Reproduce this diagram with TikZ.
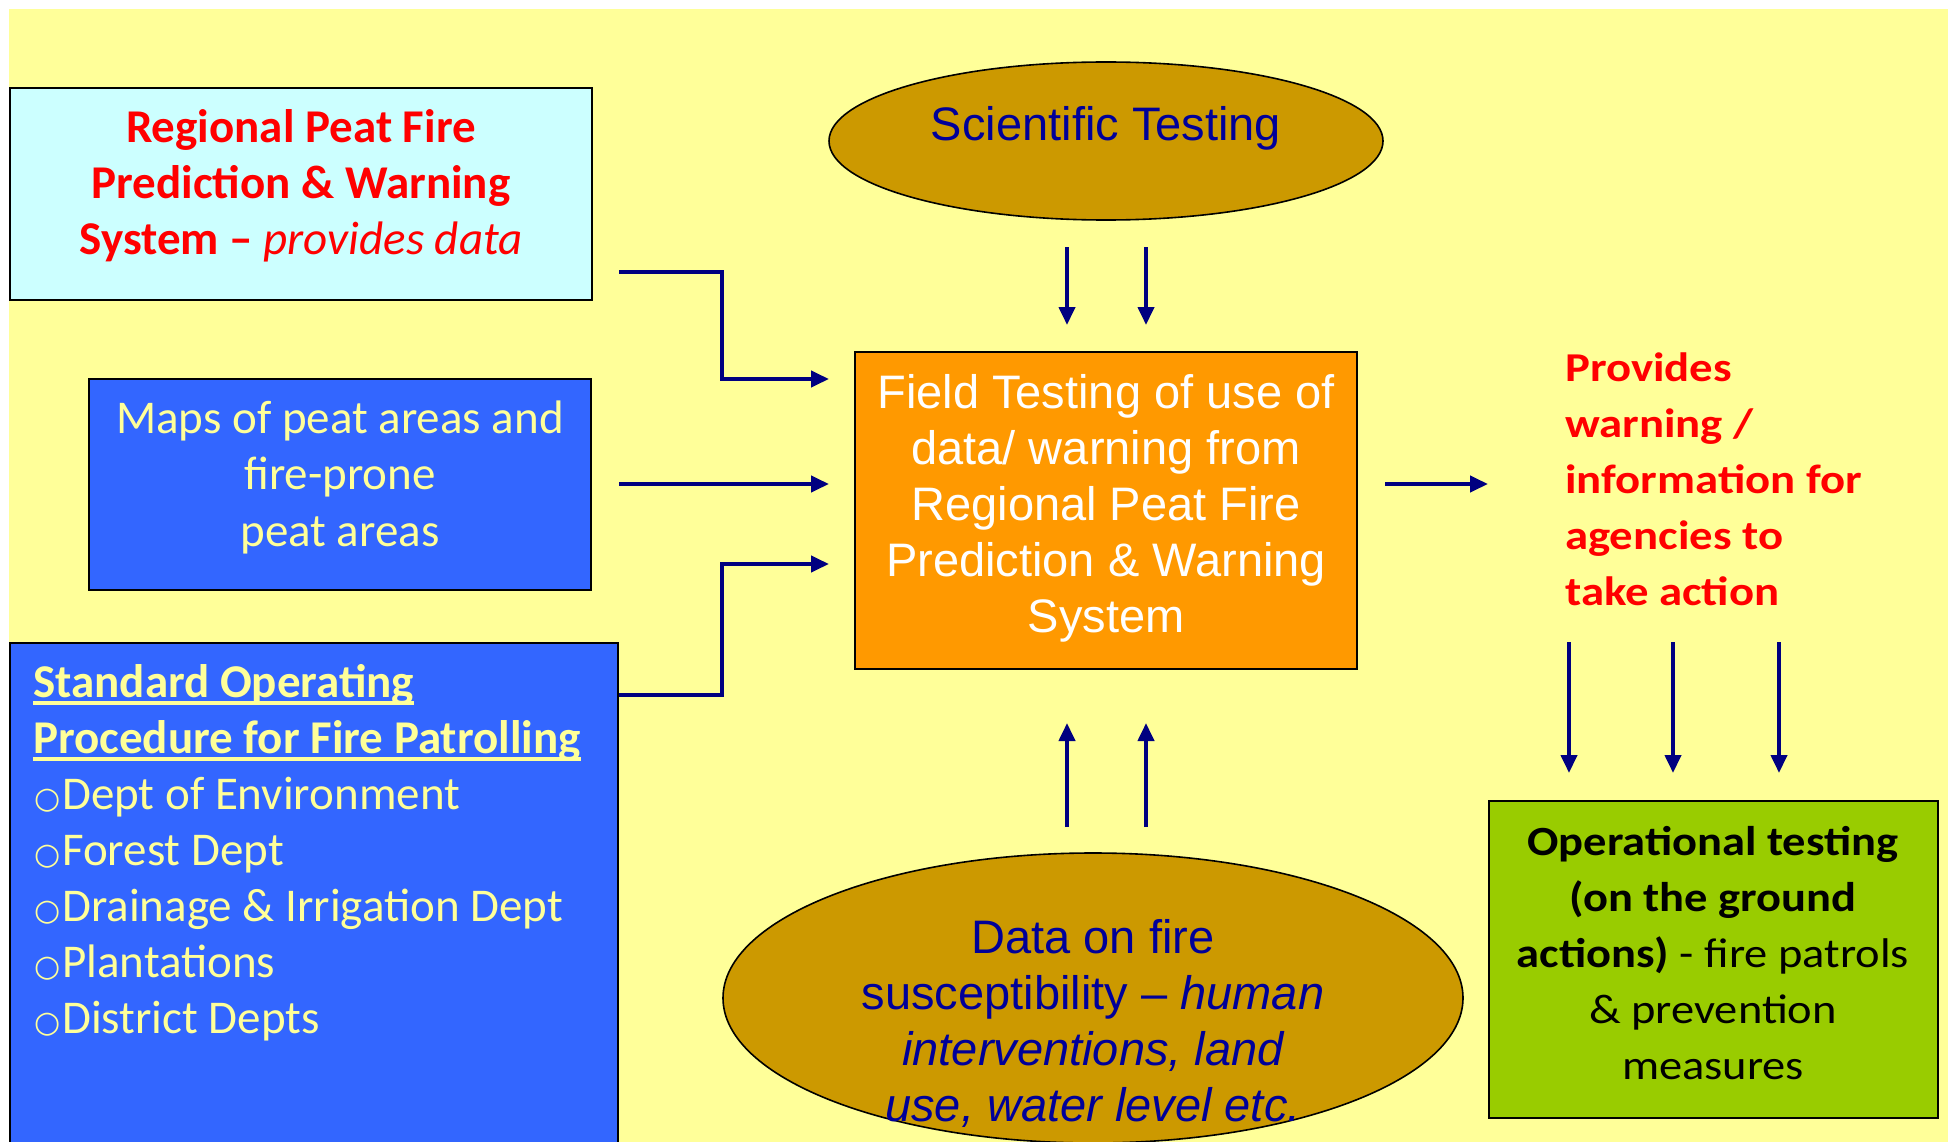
\documentclass[tikz,border=0pt]{standalone}
\usepackage{fontspec}
\setmainfont{Carlito}
\newfontfamily\arialf{Liberation Sans}
\newfontfamily\dejavuf{DejaVu Sans}
\newfontfamily\redf[FakeStretch=1.14]{Carlito}
\newfontfamily\greenf[FakeStretch=1.12]{Carlito}
\usetikzlibrary{shapes.geometric,arrows.meta}
\definecolor{bgyellow}{HTML}{FFFF99}
\definecolor{cyanbox}{HTML}{CCFFFF}
\definecolor{bluebox}{HTML}{3366FF}
\definecolor{orangebox}{HTML}{FF9900}
\definecolor{ochre}{HTML}{CC9900}
\definecolor{greenbox}{HTML}{99CC00}
\definecolor{navy}{HTML}{000080}
\definecolor{txtnavy}{HTML}{000099}
\definecolor{txtyellow}{HTML}{FFFF99}
\definecolor{redtxt}{HTML}{FF0000}
\newsavebox\ulbox
\newcommand\ulline[1]{\sbox\ulbox{#1}\rlap{\rule[-8pt]{\wd\ulbox}{4pt}}\usebox\ulbox}
\newcommand\bul{\makebox[29pt][l]{\hspace{1pt}\raisebox{1pt}{\dejavuf\fontsize{30}{30}\selectfont ○}}}
\begin{document}
\begin{tikzpicture}[x=1pt,y=-1pt,
  boxshape/.style={draw=black, line width=2.2pt, rectangle, inner sep=0pt},
  ellshape/.style={draw=black, line width=1.6pt, ellipse, fill=ochre, inner sep=0pt},
  txt/.style={inner sep=0pt, anchor=base},
  txtl/.style={inner sep=0pt, anchor=base west},
  arr/.style={draw=navy, line width=4pt, -{Triangle[width=16pt,length=18pt]}}
]
\useasboundingbox (0,0) rectangle (1948,1142);
\fill[white] (0,0) rectangle (1948,1142);
\fill[bgyellow] (9,9) rectangle (1948,1142);

% boxes
\node[boxshape, fill=cyanbox, minimum width=582, minimum height=212] (cyan) at (301,194) {};
\node[boxshape, fill=bluebox, minimum width=502, minimum height=211] (maps) at (340,484.5) {};
\node[boxshape, fill=bluebox, minimum width=608, minimum height=540] (sop) at (314,913) {};
\node[boxshape, fill=orangebox, minimum width=502, minimum height=317] (field) at (1106,510.5) {};
\node[boxshape, fill=greenbox, minimum width=449, minimum height=317] (oper) at (1713.5,959.5) {};
\node[ellshape, minimum width=554, minimum height=158] (sci) at (1106,141) {};
\node[ellshape, minimum width=740, minimum height=290] (data) at (1093,998) {};

% texts
\node[txt, text=txtnavy] (scitxt) at (1106,141)
  {\arialf\fontsize{47}{56}\selectfont Scientific Testing};
\node[txt, text=redtxt] (cyantxt) at (301,143)
  {\fontsize{47}{56}\selectfont\bfseries\begin{tabular}[t]{@{}c@{}}
   Regional Peat Fire\\ Prediction \& Warning\\ System – {\mdseries\itshape provides data}\end{tabular}};
\node[txt, text=txtyellow] (mapstxt) at (340,433)
  {\fontsize{47}{56.5}\selectfont\begin{tabular}[t]{@{}c@{}}
   Maps of peat areas and\\ fire-prone\\ peat areas\end{tabular}};
\node[txtl, text=txtyellow] (soptxt) at (33,697)
  {\fontsize{47}{56}\selectfont\begin{tabular}[t]{@{}l@{}}
   \bfseries\ulline{Standard Operating}\\
   \bfseries\ulline{Procedure for Fire Patrolling}\\
   \bul Dept of Environment\\
   \bul Forest Dept\\
   \bul Drainage \& Irrigation Dept\\
   \bul Plantations\\
   \bul District Depts\end{tabular}};
\node[txt, text=white] (fieldtxt) at (1106,408)
  {\arialf\fontsize{47}{56.2}\selectfont\begin{tabular}[t]{@{}c@{}}
   Field Testing of use of\\ data/ warning from\\ Regional Peat Fire\\ Prediction \& Warning\\ System\end{tabular}};
\node[txtl, text=redtxt] (provtxt) at (1565,381)
  {\redf\bfseries\fontsize{41}{56}\selectfont\begin{tabular}[t]{@{}l@{}}
   Provides\\ warning /\\ information for\\ agencies to\\ take action\end{tabular}};
\node[txt, text=black] (opertxt) at (1713,855)
  {\greenf\fontsize{41.5}{56}\selectfont\begin{tabular}[t]{@{}c@{}}
   \bfseries Operational testing\\ \bfseries (on the ground\\ {\bfseries actions)} - fire patrols\\ \& prevention\\ measures\end{tabular}};
\node[txt, text=txtnavy] (datatxt) at (1093,953)
  {\arialf\fontsize{47}{56}\selectfont\begin{tabular}[t]{@{}c@{}}
   Data on fire\\ susceptibility – \itshape human\\ \itshape interventions, land\\ \itshape use, water level etc.\end{tabular}};

% connector end points
\coordinate (c1s) at (619,272);
\coordinate (c1e) at (829,379);
\coordinate (c2s) at (619,484);
\coordinate (c2e) at (829,484);
\coordinate (c3s) at (sop.north east |- 0,695);
\coordinate (c3e) at (829,564);
\coordinate (out1) at (1488,484);

% connectors
\draw[arr] (c1s) -- (722,272) -- (722,379) -- (c1e);
\draw[arr] (c2s) -- (c2e);
\draw[arr] (c3s) -- (722,695) -- (722,564) -- (c3e);
\draw[arr] (1067,247) -- (1067,325);
\draw[arr] (1146,247) -- (1146,325);
\draw[arr] (1067,827) -- (1067,723);
\draw[arr] (1146,827) -- (1146,723);
\draw[arr] (field.east |- out1) ++(27,0) -- (out1);
\draw[arr] (1569,642) -- (1569,773);
\draw[arr] (1673,642) -- (1673,773);
\draw[arr] (1779,642) -- (1779,773);
\end{tikzpicture}
\end{document}
